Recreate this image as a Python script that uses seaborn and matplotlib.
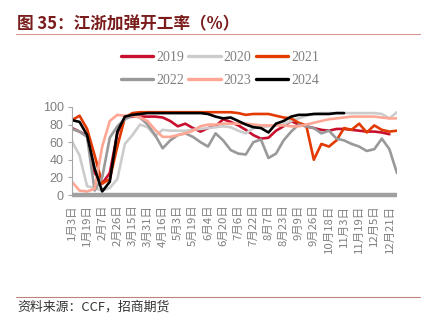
import numpy as np
import pandas as pd
import matplotlib
matplotlib.use("Agg")
import matplotlib.pyplot as plt
from matplotlib.lines import Line2D
import seaborn as sns

# ---- data -------------------------------------------------------------
years = ["2019", "2020", "2021", "2022", "2023", "2024"]

tick_labels = ["1月3日", "1月19日", "2月7日", "2月26日", "3月15日", "3月31日",
               "4月16日", "5月3日", "5月19日", "6月4日", "6月20日", "7月6日",
               "7月22日", "8月7日", "8月23日", "9月9日", "9月26日", "10月18日",
               "11月3日", "11月19日", "12月5日", "12月21日"]

v2019 = [76, 72, 67, 25, 13, 25, 70, 88, 89, 89, 89, 89, 88, 84, 78, 81, 76, 72,
         76, 78, 86, 83, 79, 74, 68, 64, 65, 73, 78, 84, 80, 78, 76, 74, 73, 75,
         75, 74, 73, 72, 72, 71, 69, np.nan]
v2020 = [61, 45, 10, 8, 5, 8, 18, 58, 68, 80, 77, 67, 74, 73, 73, 73, 74, 75,
         76, 77, 78, 77, 73, 70, 76, 77, 78, 79, 80, 84, 87, 90, 92, 93, 93, 93,
         93, 93, 93, 93, 93, 92, 87, 94]
v2021 = [85, 90, 75, 45, 13, 18, 55, 88, 93, 94, 94, 94, 94, 94, 94, 94, 94, 94,
         94, 94, 94, 94, 93, 91, 92, 92, 92, 90, 88, 87, 82, 79, 40, 58, 55, 62,
         76, 74, 81, 71, 79, 74, 72, 73]
v2022 = [75, 72, 66, 5, 20, 65, 78, 86, 90, 88, 80, 68, 53, 62, 68, 70, 66, 60,
         55, 70, 62, 51, 47, 46, 60, 63, 42, 47, 62, 72, 80, 78, 76, 70, 73, 64,
         62, 58, 55, 50, 52, 64, 52, 25]
v2023 = [15, 5, 4, 7, 55, 84, 91, 90, 90, 88, 84, 74, 66, 66, 68, 70, 73, 78,
         80, 80, 81, 81, 81, 81, 80, 79, 79, 79, 79, 78, 78, 80, 82, 84, 86, 87,
         88, 89, 89, 89, 89, 88, 87, 87]
v2024 = [85, 83, 68, 30, 4, 15, 72, 89, 91, 92, 93, 93, 93, 93, 93, 93, 93, 93,
         92, 89, 87, 88, 84, 80, 77, 76, 71, 81, 84, 89, 91, 91, 92, 92, 92, 93,
         93, np.nan, np.nan, np.nan, np.nan, np.nan, np.nan, np.nan]

series = [v2019, v2020, v2021, v2022, v2023, v2024]
n_points = len(v2019)

frames = []
for yr, vals in zip(years, series):
    frames.append(pd.DataFrame({"idx": np.arange(n_points), "value": vals, "year": yr}))
df = pd.concat(frames, ignore_index=True).dropna()

palette = {"2019": "#C8102E", "2020": "#CCCCCC", "2021": "#E23A00",
           "2022": "#999999", "2023": "#FFA794", "2024": "#000000"}

# ---- style ------------------------------------------------------------
sns.set_style("white")
plt.rcParams["font.family"] = ["Liberation Sans", "Noto Sans CJK SC", "DejaVu Sans"]

fig = plt.figure(figsize=(4.31, 3.25), dpi=100)
ax = fig.add_axes([0.167, 0.40, 0.754, 0.271])

sns.lineplot(data=df, x="idx", y="value", hue="year", palette=palette,
             hue_order=years, linewidth=1.9, ax=ax, legend=False)

ax.set_xlim(0, n_points - 1)
ax.set_ylim(0, 100)
ax.set_yticks(np.arange(0, 101, 20))
ax.set_xticks(np.arange(0, n_points, 2))
ax.set_xticklabels(tick_labels, rotation=90, fontsize=8.2, color="#7F7F7F",
                   family=["Noto Sans CJK SC", "DejaVu Sans"])
ax.tick_params(axis="y", labelsize=9, labelcolor="#7F7F7F", length=3,
               color="#A6A6A6", width=0.8, left=True, pad=3)
ax.tick_params(axis="x", length=0, pad=7)
ax.set_xlabel("")
ax.set_ylabel("")

for side in ["top", "right"]:
    ax.spines[side].set_visible(False)
ax.spines["left"].set_color("#A6A6A6")
ax.spines["left"].set_linewidth(0.8)
ax.spines["bottom"].set_color("#A0A0A0")
ax.spines["bottom"].set_linewidth(3.2)
ax.spines["bottom"].set_capstyle("butt")

# legend: two rows, three columns
handles = {yr: Line2D([], [], color=palette[yr], linewidth=2.4) for yr in years}
order = ["2019", "2022", "2020", "2023", "2021", "2024"]
leg = fig.legend([handles[y] for y in order], order, ncol=3, frameon=False,
                 loc="center", bbox_to_anchor=(0.51, 0.788),
                 prop={"family": "Liberation Serif", "size": 10},
                 handlelength=2.35, handletextpad=0.2, columnspacing=0.3,
                 labelspacing=0.7, labelcolor="#808080")

# title and source
fig.text(0.040, 0.925, "图 35：江浙加弹开工率（%）", fontsize=12, fontweight="bold",
         color="#7A1C1C", family=["Noto Sans CJK SC", "DejaVu Sans"], va="center")
fig.add_artist(Line2D([0.037, 0.975], [0.896, 0.896], color="#D99694", linewidth=0.8))
fig.add_artist(Line2D([0.037, 0.975], [0.087, 0.087], color="#C08080", linewidth=0.8))
fig.text(0.040, 0.055, "资料来源：CCF，招商期货", fontsize=9.3, color="#333333",
         family=["Noto Sans CJK SC", "DejaVu Sans"], va="center")

fig.savefig("out.png", dpi=100)
